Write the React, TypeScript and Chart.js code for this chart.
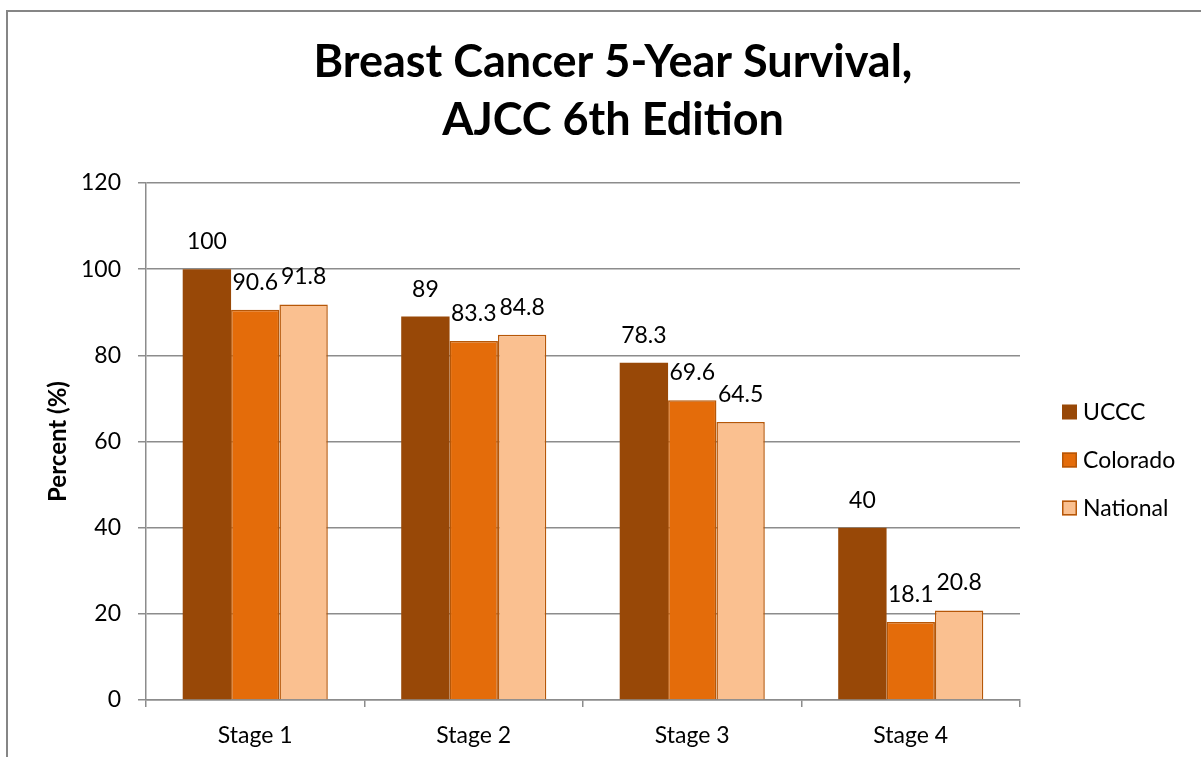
import React, { useEffect, useRef } from "react";
import { Chart, registerables } from "chart.js";

Chart.register(...registerables);

const categories = ["Stage 1", "Stage 2", "Stage 3", "Stage 4"];
const seriesNames = ["UCCC", "Colorado", "National"];
const ucccValues = [100, 89, 78.3, 40];
const coloradoValues = [90.6, 83.3, 69.6, 18.1];
const nationalValues = [91.8, 84.8, 64.5, 20.8];
const titleLines = ["Breast Cancer 5-Year Survival,", "AJCC 6th Edition"];
const yAxisTitle = "Percent (%)";

const FONT = "Lato, 'Open Sans', sans-serif";
const fills = ["#984807", "#E46C0A", "#FAC090"];
const borders = ["#984807", "#B65708", "#B65708"];
const GRID = "#8c8c8c";

const W = 1201;
const H = 757;

const framePlugin = {
  id: "frame",
  beforeDraw(chart: any) {
    const ctx = chart.ctx;
    ctx.save();
    ctx.fillStyle = "#ffffff";
    ctx.fillRect(0, 0, chart.width, chart.height);
    ctx.strokeStyle = "#868686";
    ctx.lineWidth = 2;
    ctx.strokeRect(7, 11, 1400, 1000);
    ctx.restore();
  },
};

const titlePlugin = {
  id: "customTitle",
  afterDraw(chart: any) {
    const ctx = chart.ctx;
    ctx.save();
    ctx.fillStyle = "#000000";
    ctx.font = `bold 45px ${FONT}`;
    ctx.textAlign = "center";
    ctx.textBaseline = "alphabetic";
    ctx.fillText(titleLines[0], 613, 77);
    ctx.fillText(titleLines[1], 613, 135);
    ctx.restore();
  },
};

const legendPlugin = {
  id: "customLegend",
  afterDraw(chart: any) {
    const ctx = chart.ctx;
    ctx.save();
    ctx.font = `23px ${FONT}`;
    ctx.textAlign = "left";
    ctx.textBaseline = "middle";
    seriesNames.forEach((name, i) => {
      const cy = 412 + i * 48;
      ctx.fillStyle = fills[i];
      ctx.fillRect(1062, cy - 7.5, 15, 15);
      if (i > 0) {
        ctx.strokeStyle = borders[i];
        ctx.lineWidth = 1.5;
        ctx.strokeRect(1062.75, cy - 6.75, 13.5, 13.5);
      }
      ctx.fillStyle = "#000000";
      ctx.fillText(name, 1083, cy + 1);
    });
    ctx.restore();
  },
};

const valueLabelPlugin = {
  id: "valueLabels",
  afterDatasetsDraw(chart: any) {
    const ctx = chart.ctx;
    ctx.save();
    ctx.font = `23px ${FONT}`;
    ctx.fillStyle = "#000000";
    ctx.textAlign = "center";
    ctx.textBaseline = "alphabetic";
    chart.data.datasets.forEach((ds: any, di: number) => {
      const meta = chart.getDatasetMeta(di);
      meta.data.forEach((bar: any, i: number) => {
        ctx.fillText(String(ds.data[i]), bar.x, bar.y - 20);
      });
    });
    ctx.restore();
  },
};

export default function App() {
  const canvasRef = useRef<HTMLCanvasElement | null>(null);

  useEffect(() => {
    if (!canvasRef.current) return;
    const seriesValues = [ucccValues, coloradoValues, nationalValues];
    const chart = new Chart(canvasRef.current, {
      type: "bar",
      data: {
        labels: categories,
        datasets: seriesNames.map((name, i) => ({
          label: name,
          data: seriesValues[i],
          backgroundColor: fills[i],
          borderColor: borders[i],
          borderWidth: i === 0 ? 0 : 1.5,
          categoryPercentage: 0.664,
          barPercentage: 1,
        })),
      },
      options: {
        responsive: false,
        animation: false,
        layout: { padding: { top: 183, right: 181, bottom: 0, left: 0 } },
        plugins: {
          legend: { display: false },
          title: { display: false },
          tooltip: { enabled: false },
        },
        scales: {
          x: {
            afterFit: (s: any) => {
              s.height = 57;
            },
            grid: {
              display: true,
              offset: true,
              drawOnChartArea: false,
              drawTicks: true,
              tickLength: 7,
              color: GRID,
              lineWidth: 1.5,
            },
            border: { display: true, color: GRID, width: 1.5 },
            ticks: {
              color: "#000000",
              font: { family: FONT, size: 23 },
              padding: 15,
            },
          },
          y: {
            min: 0,
            max: 120,
            afterFit: (s: any) => {
              s.width = 146;
            },
            ticks: {
              stepSize: 20,
              color: "#000000",
              font: { family: FONT, size: 23 },
              padding: 17,
            },
            grid: {
              color: GRID,
              lineWidth: 1.5,
              tickLength: 8,
              drawTicks: true,
            },
            border: { display: true, color: GRID, width: 1.5 },
            title: {
              display: true,
              text: yAxisTitle,
              color: "#000000",
              font: { family: FONT, size: 24, weight: "bold" },
              padding: { top: 44, bottom: 0 },
            },
          },
        },
      },
      plugins: [framePlugin, titlePlugin, legendPlugin, valueLabelPlugin],
    } as any);
    return () => chart.destroy();
  }, []);

  return (
    <div style={{ position: "fixed", left: 0, top: 0, width: W, height: H, background: "#fff" }}>
      <canvas ref={canvasRef} width={W} height={H} style={{ display: "block", width: W, height: H }} />
    </div>
  );
}
